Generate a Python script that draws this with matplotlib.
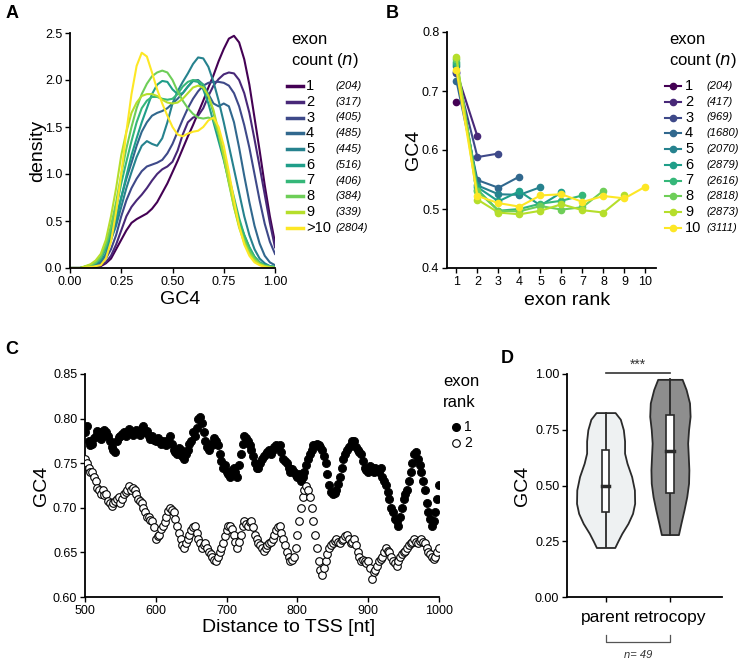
import numpy as np
from matplotlib import pyplot as plt
from matplotlib.lines import Line2D

plt.rcParams['font.family'] = ['Liberation Sans', 'DejaVu Sans']

W, H = 739, 662

# ---- panel A: GC4 density by exon count ----
gc4_grid = [0.0, 0.05, 0.1, 0.125, 0.15, 0.175, 0.2, 0.225, 0.25, 0.275, 0.3, 0.325, 0.35, 0.375,
            0.4, 0.425, 0.45, 0.475, 0.5, 0.525, 0.55, 0.575, 0.6, 0.625, 0.65, 0.675, 0.7, 0.725,
            0.75, 0.775, 0.8, 0.825, 0.85, 0.875, 0.9, 0.925, 0.95, 0.975, 1.0]
dens_1 = [0, 0, 0.01, 0.01, 0.02, 0.05, 0.1, 0.2, 0.3, 0.4, 0.48, 0.52, 0.55, 0.58,
          0.63, 0.7, 0.8, 0.9, 1.02, 1.14, 1.27, 1.4, 1.52, 1.65, 1.78, 1.92, 2.05, 2.2,
          2.33, 2.44, 2.47, 2.4, 2.22, 1.95, 1.6, 1.25, 0.88, 0.55, 0.27]
dens_2 = [0, 0, 0.01, 0.02, 0.03, 0.06, 0.13, 0.25, 0.4, 0.55, 0.65, 0.72, 0.78, 0.85,
          0.93, 1.0, 1.05, 1.08, 1.13, 1.25, 1.42, 1.55, 1.6, 1.62, 1.7, 1.83, 1.94, 2.01,
          2.06, 2.08, 2.07, 2.0, 1.86, 1.65, 1.37, 1.08, 0.78, 0.48, 0.22]
dens_3 = [0, 0, 0.01, 0.02, 0.04, 0.1, 0.2, 0.35, 0.55, 0.72, 0.85, 0.95, 1.03, 1.08,
          1.1, 1.12, 1.15, 1.22, 1.32, 1.45, 1.58, 1.7, 1.8, 1.88, 1.94, 1.97, 1.98, 1.98,
          1.97, 1.94, 1.86, 1.72, 1.52, 1.28, 1.0, 0.72, 0.47, 0.28, 0.15]
dens_4 = [0, 0, 0.02, 0.03, 0.06, 0.14, 0.3, 0.5, 0.75, 0.95, 1.12, 1.3, 1.45, 1.55,
          1.62, 1.65, 1.67, 1.7, 1.75, 1.8, 1.86, 1.93, 1.99, 2.0, 1.95, 1.85, 1.75, 1.72,
          1.75, 1.72, 1.55, 1.28, 0.98, 0.7, 0.45, 0.26, 0.13, 0.06, 0.03]
dens_5 = [0, 0, 0.02, 0.03, 0.07, 0.15, 0.3, 0.45, 0.65, 0.85, 1.02, 1.18, 1.3, 1.35,
          1.32, 1.3, 1.38, 1.55, 1.75, 1.88, 1.98, 2.07, 2.17, 2.24, 2.23, 2.14, 1.98, 1.78,
          1.55, 1.3, 1.05, 0.8, 0.55, 0.35, 0.2, 0.1, 0.05, 0.02, 0.01]
dens_6 = [0, 0, 0.03, 0.05, 0.1, 0.2, 0.35, 0.53, 0.75, 0.98, 1.2, 1.38, 1.55, 1.7,
          1.85, 1.95, 1.99, 1.98, 1.9, 1.85, 1.86, 1.93, 1.99, 1.98, 1.9, 1.75, 1.55, 1.35,
          1.15, 0.92, 0.7, 0.5, 0.35, 0.22, 0.12, 0.06, 0.03, 0.02, 0.01]
dens_7 = [0, 0, 0.03, 0.05, 0.1, 0.22, 0.4, 0.63, 0.9, 1.13, 1.35, 1.55, 1.7, 1.78,
          1.82, 1.82, 1.8, 1.79, 1.8, 1.85, 1.93, 1.98, 2.0, 1.99, 1.95, 1.83, 1.65, 1.43,
          1.2, 0.97, 0.75, 0.53, 0.35, 0.22, 0.12, 0.06, 0.03, 0.02, 0.01]
dens_8 = [0, 0, 0.03, 0.06, 0.12, 0.25, 0.45, 0.7, 1.0, 1.27, 1.5, 1.7, 1.85, 1.96,
          2.04, 2.08, 2.1, 2.08, 2.0, 1.88, 1.78, 1.7, 1.64, 1.6, 1.59, 1.6, 1.58, 1.42,
          1.17, 0.9, 0.65, 0.45, 0.3, 0.18, 0.1, 0.05, 0.02, 0.01, 0]
dens_9 = [0, 0, 0.04, 0.08, 0.15, 0.3, 0.55, 0.85, 1.2, 1.45, 1.65, 1.76, 1.83, 1.85,
          1.85, 1.83, 1.79, 1.76, 1.75, 1.76, 1.8, 1.86, 1.92, 1.94, 1.92, 1.83, 1.68, 1.45,
          1.2, 0.92, 0.65, 0.43, 0.27, 0.15, 0.08, 0.04, 0.02, 0.01, 0]
dens_10 = [0, 0, 0.01, 0.02, 0.03, 0.1, 0.28, 0.6, 1.0, 1.45, 1.85, 2.15, 2.29, 2.25,
           2.08, 1.9, 1.75, 1.62, 1.5, 1.42, 1.4, 1.43, 1.45, 1.46, 1.5, 1.57, 1.6, 1.5,
           1.3, 1.02, 0.72, 0.45, 0.25, 0.13, 0.06, 0.03, 0.01, 0, 0]
count_labels_a = ["1", "2", "3", "4", "5", "6", "7", "8", "9", ">10"]
count_n_a = [204, 317, 405, 485, 445, 516, 406, 384, 339, 2804]

# ---- panel B: GC4 by exon rank ----
rank_gc4 = [
    [0.681],
    [0.733, 0.623],
    [0.730, 0.588, 0.594],
    [0.717, 0.549, 0.536, 0.555],
    [0.742, 0.540, 0.525, 0.524, 0.537],
    [0.745, 0.537, 0.513, 0.530, 0.506, 0.528],
    [0.750, 0.533, 0.497, 0.500, 0.509, 0.514, 0.523],
    [0.755, 0.530, 0.497, 0.496, 0.505, 0.499, 0.503, 0.531],
    [0.757, 0.516, 0.494, 0.491, 0.497, 0.508, 0.498, 0.494, 0.523],
    [0.735, 0.522, 0.510, 0.504, 0.523, 0.525, 0.512, 0.522, 0.518, 0.538],
]
count_labels_b = ["1", "2", "3", "4", "5", "6", "7", "8", "9", "10"]
count_n_b = [204, 417, 969, 1680, 2070, 2879, 2616, 2818, 2873, 3111]

# ---- panel C: GC4 vs distance to TSS (one row = 50 nt, step 2.5 nt) ----
tss_dist = np.arange(500, 1000.1, 2.5)
gc4_rank1 = [
    .785, .792, .775, .770, .772, .778, .780, .786, .785, .777, .780, .787, .785, .780, .775, .768, .765, .762, .775, .779,
    .780, .783, .785, .781, .785, .788, .785, .782, .785, .787, .785, .782, .790, .792, .785, .786, .780, .777, .780, .776,
    .775, .778, .775, .772, .775, .773, .770, .776, .780, .772, .765, .762, .760, .767, .765, .758, .755, .760, .765, .772,
    .775, .785, .780, .790, .800, .802, .795, .785, .775, .768, .765, .772, .770, .778, .775, .770, .760, .752, .745, .748,
    .740, .738, .735, .742, .745, .740, .735, .748, .760, .772, .780, .778, .775, .770, .765, .758, .750, .745, .745, .750,
    .755, .758, .760, .763, .765, .760, .765, .768, .770, .768, .770, .762, .755, .752, .750, .745, .740, .743, .740, .737,
    .735, .738, .730, .735, .740, .748, .755, .760, .765, .770, .770, .772, .770, .768, .765, .758, .750, .738, .725, .718,
    .715, .717, .720, .727, .735, .745, .755, .760, .765, .768, .770, .775, .775, .768, .765, .762, .760, .752, .745, .742,
    .740, .747, .745, .740, .745, .742, .740, .745, .735, .730, .725, .718, .710, .700, .695, .688, .685, .680, .690, .700,
    .710, .715, .720, .730, .740, .750, .760, .762, .755, .748, .740, .730, .720, .705, .695, .688, .680, .685, .695, .710,
    .725]
gc4_rank2 = [
    .755, .750, .745, .740, .740, .735, .730, .722, .720, .716, .720, .714, .715, .708, .705, .702, .705, .708, .710, .712,
    .705, .710, .715, .718, .720, .724, .720, .722, .720, .715, .710, .708, .705, .700, .695, .690, .690, .686, .685, .678,
    .665, .668, .670, .676, .680, .684, .690, .696, .700, .698, .695, .688, .680, .672, .665, .658, .655, .660, .665, .670,
    .675, .678, .680, .672, .665, .660, .655, .658, .660, .655, .650, .648, .645, .642, .640, .645, .650, .655, .660, .668,
    .675, .680, .680, .676, .670, .662, .655, .662, .670, .680, .685, .682, .680, .684, .685, .678, .670, .665, .660, .658,
    .655, .652, .655, .658, .660, .662, .665, .670, .675, .678, .680, .672, .665, .658, .650, .645, .640, .642, .645, .655,
    .670, .685, .700, .712, .720, .724, .720, .712, .700, .685, .670, .655, .640, .630, .625, .632, .640, .648, .655, .658,
    .660, .663, .665, .662, .660, .664, .665, .668, .670, .665, .660, .662, .665, .658, .650, .645, .640, .642, .640, .638,
    .640, .632, .620, .628, .630, .635, .640, .643, .645, .650, .655, .652, .650, .645, .640, .638, .635, .640, .645, .648,
    .650, .652, .655, .658, .660, .662, .665, .662, .660, .663, .665, .662, .660, .655, .650, .648, .645, .643, .645, .650,
    .655]

# ---- panel D: parent vs retrocopy violins ----
groups_d = ["parent", "retrocopy"]
parent_y = [0.827, 0.797, 0.75, 0.70, 0.645, 0.60, 0.54, 0.48, 0.42, 0.375, 0.33, 0.285, 0.25, 0.222]
parent_hw = [0.148, 0.229, 0.276, 0.295, 0.295, 0.333, 0.405, 0.448, 0.452, 0.419, 0.348, 0.252, 0.19, 0.143]
retro_y = [0.976, 0.93, 0.87, 0.81, 0.75, 0.69, 0.63, 0.57, 0.51, 0.45, 0.39, 0.33, 0.28]
retro_hw = [0.19, 0.252, 0.305, 0.314, 0.29, 0.276, 0.286, 0.295, 0.29, 0.262, 0.219, 0.171, 0.133]
parent_box = [0.38, 0.497, 0.657]
retro_box = [0.468, 0.655, 0.816]
violin_colors = ["#eef1f2", "#8e8e8e"]

colors = plt.cm.viridis(np.linspace(0, 1, 10))


def px_axes(fig, left, top, right, bottom):
    ax = fig.add_axes([left / W, 1 - bottom / H, (right - left) / W, (bottom - top) / H])
    for s in ["top", "right"]:
        ax.spines[s].set_visible(False)
    for s in ["left", "bottom"]:
        ax.spines[s].set_linewidth(1.3)
    ax.tick_params(labelsize=9, length=3.5, width=1, pad=2)
    return ax


def fx(x):
    return x / W


def fy(y):
    return 1 - y / H


def side_legend(fig, x_line, x_lab, x_n, labels, counts, marker):
    fig.text(fx(x_line + 4), fy(40), "exon", fontsize=12, va="center")
    fig.text(fx(x_line + 4), fy(60), "count ($\\it{n}$)", fontsize=12, va="center")
    for i in range(10):
        y = 86 + i * 15.75
        ln = Line2D([fx(x_line), fx(x_line + 16)], [fy(y), fy(y)], color=colors[i], lw=2.5 if marker is None else 1.5,
                    transform=fig.transFigure)
        fig.add_artist(ln)
        if marker:
            fig.add_artist(Line2D([fx(x_line + 8)], [fy(y)], marker="o", ms=4.5, color=colors[i],
                                  transform=fig.transFigure))
        fig.text(fx(x_lab), fy(y), labels[i], fontsize=10.5, va="center")
        fig.text(fx(x_n), fy(y), f"({counts[i]})", fontsize=8, style="italic", va="center")


def panel_a(fig):
    ax = px_axes(fig, 70, 33, 275, 268)
    all_dens = [dens_1, dens_2, dens_3, dens_4, dens_5, dens_6, dens_7, dens_8, dens_9, dens_10]
    for i, d in enumerate(all_dens):
        ax.plot(gc4_grid, d, color=colors[i], lw=1.5)
    ax.set_xlim(0, 1)
    ax.set_ylim(0, 2.5)
    ax.set_xticks([0, 0.25, 0.5, 0.75, 1.0])
    ax.set_xticklabels(["0.00", "0.25", "0.50", "0.75", "1.00"])
    ax.set_yticks([0, 0.5, 1.0, 1.5, 2.0, 2.5])
    ax.set_yticklabels(["0.0", "0.5", "1.0", "1.5", "2.0", "2.5"])
    ax.set_xlabel("GC4", fontsize=14)
    ax.set_ylabel("density", fontsize=14)
    ax.xaxis.set_label_coords(0.535, -0.1)
    ax.yaxis.set_label_coords(-0.115, 0.5)
    side_legend(fig, 287, 306, 335, count_labels_a, count_n_a, None)
    fig.text(fx(6), fy(13), "A", fontsize=13, fontweight="bold", va="center")


def panel_b(fig):
    ax = px_axes(fig, 447, 32, 656, 268)
    for i, vals in enumerate(rank_gc4):
        ranks = np.arange(1, len(vals) + 1)
        ax.plot(ranks, vals, "-o", color=colors[i], lw=1.5, ms=4.5)
    ax.set_xlim(0.55, 10.5)
    ax.set_ylim(0.4, 0.8)
    ax.set_xticks(range(1, 11))
    ax.set_yticks([0.4, 0.5, 0.6, 0.7, 0.8])
    ax.set_yticklabels(["0.4", "0.5", "0.6", "0.7", "0.8"])
    ax.set_xlabel("exon rank", fontsize=14)
    ax.set_ylabel("GC4", fontsize=14)
    ax.xaxis.set_label_coords(0.573, -0.1)
    ax.yaxis.set_label_coords(-0.118, 0.5)
    side_legend(fig, 665, 685, 706, count_labels_b, count_n_b, "o")
    fig.text(fx(386), fy(13), "B", fontsize=13, fontweight="bold", va="center")


def panel_c(fig):
    ax = px_axes(fig, 85, 374, 439, 597)
    ax.scatter(tss_dist, gc4_rank1, s=34, c="black", edgecolors="black", linewidths=0.6, zorder=3)
    ax.scatter(tss_dist, gc4_rank2, s=30, facecolors="white", edgecolors="black", linewidths=0.8, zorder=3)
    ax.set_xlim(500, 1000)
    ax.set_ylim(0.6, 0.85)
    ax.set_xticks(range(500, 1001, 100))
    ax.set_yticks([0.6, 0.65, 0.7, 0.75, 0.8, 0.85])
    ax.set_yticklabels(["0.60", "0.65", "0.70", "0.75", "0.80", "0.85"])
    ax.set_xlabel("Distance to TSS [nt]", fontsize=14)
    ax.set_ylabel("GC4", fontsize=14)
    ax.xaxis.set_label_coords(0.575, -0.1)
    ax.yaxis.set_label_coords(-0.098, 0.5)
    fig.text(fx(443), fy(381), "exon", fontsize=12, va="center")
    fig.text(fx(443), fy(402), "rank", fontsize=12, va="center")
    fig.add_artist(Line2D([fx(456)], [fy(427)], marker="o", ms=5.5, color="black", transform=fig.transFigure))
    fig.add_artist(Line2D([fx(456)], [fy(443)], marker="o", ms=5.5, mfc="white", mec="black", mew=0.8,
                          transform=fig.transFigure))
    fig.text(fx(464), fy(427), "1", fontsize=10, va="center")
    fig.text(fx(464), fy(443), "2", fontsize=10, va="center")
    fig.text(fx(5), fy(350), "C", fontsize=13, fontweight="bold", va="center")


def panel_d(fig):
    ax = px_axes(fig, 567, 374, 722, 597)
    edge = "#2a2a2a"
    shapes = [(parent_y, parent_hw, parent_box), (retro_y, retro_hw, retro_box)]
    for i, (ys, hw, box) in enumerate(shapes):
        ys = np.array(ys)
        hw = np.array(hw)
        ax.fill_betweenx(ys, i - hw, i + hw, facecolor=violin_colors[i], edgecolor=edge, lw=1.3, zorder=2)
        ax.plot([i, i], [ys.min(), ys.max()], color=edge, lw=1.3, zorder=3)
        q1, med, q3 = box
        ax.add_patch(plt.Rectangle((i - 0.06, q1), 0.12, q3 - q1, facecolor="white", edgecolor=edge,
                                   lw=1.2, zorder=4))
        ax.plot([i - 0.06, i + 0.06], [med, med], color=edge, lw=2.5, zorder=5)
    ax.set_xlim(-0.6, 1.81)
    ax.set_ylim(0, 1.0)
    ax.set_xticks([0, 1])
    ax.set_xticklabels(groups_d, fontsize=12.5)
    ax.tick_params(axis="x", pad=6)
    ax.set_yticks([0, 0.25, 0.5, 0.75, 1.0])
    ax.set_yticklabels(["0.00", "0.25", "0.50", "0.75", "1.00"])
    ax.set_ylabel("GC4", fontsize=14)
    ax.yaxis.set_label_coords(-0.235, 0.5)
    ax.plot([0, 1], [1.005, 1.005], color="#333333", lw=1.2, clip_on=False)
    ax.text(0.5, 1.012, "***", ha="center", va="bottom", fontsize=10, color="#333333")
    tr = ax.get_xaxis_transform()
    ax.plot([0, 0, 1, 1], [-0.17, -0.2, -0.2, -0.17], color="#555555", lw=0.9, transform=tr, clip_on=False)
    ax.text(0.5, -0.26, "n= 49", ha="center", va="center", fontsize=8, style="italic", color="#333333",
            transform=tr)
    fig.text(fx(501), fy(358), "D", fontsize=13, fontweight="bold", va="center")


fig = plt.figure(figsize=(W / 100, H / 100), dpi=100)
panel_a(fig)
panel_b(fig)
panel_c(fig)
panel_d(fig)
fig.savefig("out.png", dpi=100)
